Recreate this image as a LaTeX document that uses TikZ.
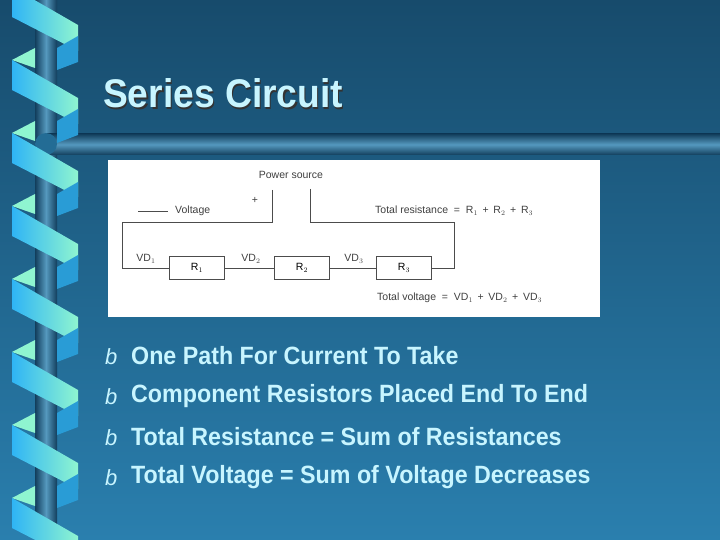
\documentclass[tikz,border=0pt]{standalone}
\usepackage{fontspec}
\setmainfont{Liberation Sans}
\usetikzlibrary{positioning}
\definecolor{bgtop}{HTML}{174B6C}
\definecolor{bgbot}{HTML}{2A7FAE}
\definecolor{ribA}{HTML}{2FB4F5}
\definecolor{ribB}{HTML}{8FF5D0}
\definecolor{titlecol}{HTML}{C8F5FF}
\definecolor{barcol}{HTML}{123E5C}
\tikzset{
  wire/.style={draw=black!70, line width=0.5pt},
  resbox/.style={draw=black!70, line width=0.5pt, minimum width=55pt, minimum height=23pt, inner sep=0pt, font=\fontsize{10.5}{10.5}\selectfont},
  lbl/.style={inner sep=0pt, font=\fontsize{10.5}{10.5}\selectfont, text=black!75},
  bullet/.style={anchor=west, inner sep=0pt, text=titlecol, font=\bfseries\fontsize{25}{25}\selectfont, xscale=0.93}
}
\begin{document}
\begin{tikzpicture}[x=1pt, y=-1pt]
\useasboundingbox (0,0) rectangle (720,540);
\shade[top color=bgtop, bottom color=bgbot] (0,0) rectangle (720,540);
%Column and bar
\shade[left color=barcol, right color=barcol, middle color=bgbot!80] (35,0) rectangle (57,540);
\shade[top color=barcol, bottom color=barcol, middle color=bgbot!80] (46,134) rectangle (720,155);
\fill[bgbot!70!barcol] (46,144) circle (11);
%Ribbons
\foreach \k in {-1,...,7}{
  \pgfmathsetmacro{\yy}{\k*73}
  \fill[ribB] (12,\yy+60) -- (35,\yy+48) -- (35,\yy+68) -- cycle;
  \fill[ribA!80!barcol] (57,\yy+48) -- (78,\yy+36) -- (78,\yy+62) -- (57,\yy+70) -- cycle;
  \shade[left color=ribA, right color=ribB] (12,\yy+60) -- (78,\yy+98) -- (78,\yy+124) -- (12,\yy+90) -- cycle;
}
%Title
\node[anchor=west, inner sep=0pt, text=titlecol, font=\bfseries\fontsize{40}{40}\selectfont, xscale=0.93] (title) at (103,94) {\makebox[0pt][l]{\kern1.5pt\raisebox{-1.5pt}{\color{black!80}Series Circuit}}Series Circuit};
%Circuit picture
\fill[white] (108,160) rectangle (600,317);
\node[lbl] (ps) at (291,175) {Power source};
\node[lbl] (plus) at (255,200) {+};
\node[resbox] (r1) at (197,268) {R$_1$};
\node[resbox] (r2) at (302,268) {R$_2$};
\node[resbox] (r3) at (404,268) {R$_3$};
\coordinate (pa) at (272,190);
\coordinate (pb) at (310,189);
\draw[wire] (pa) -- (272,222) -- (122,222) -- (122,268) -- (r1.west);
\draw[wire] (r1.east) -- (r2.west);
\draw[wire] (r2.east) -- (r3.west);
\draw[wire] (pb) -- (310,222) -- (454,222) -- (454,268) -- (r3.east);
\coordinate (va) at (138,211);
\coordinate (vb) at (168,211);
\draw[wire] (va) -- (vb);
\node[lbl, anchor=west] (volt) at (175,211) {Voltage};
\node[lbl, anchor=west] (tr) at (375,211) {Total resistance \ = \ R$_1$ \,+\, R$_2$ \,+\, R$_3$};
\node[lbl] (vd1) at (146,259) {VD$_1$};
\node[lbl] (vd2) at (251,259) {VD$_2$};
\node[lbl] (vd3) at (354,259) {VD$_3$};
\node[lbl, anchor=west] (tv) at (377,298) {Total voltage \ = \ VD$_1$ \,+\, VD$_2$ \,+\, VD$_3$};
%Bullets
\foreach \t [count=\i] in {One Path For Current To Take, Component Resistors Placed End To End, Total Resistance = Sum of Resistances, Total Voltage = Sum of Voltage Decreases}{
  \node[anchor=west, inner sep=0pt, text=titlecol, font=\itshape\fontsize{22}{22}\selectfont] (b\i) at (105,316+\i*40.5) {b};
  \node[bullet] (t\i) at (131,315+\i*40.5) {\t};
}
\end{tikzpicture}
\end{document}
